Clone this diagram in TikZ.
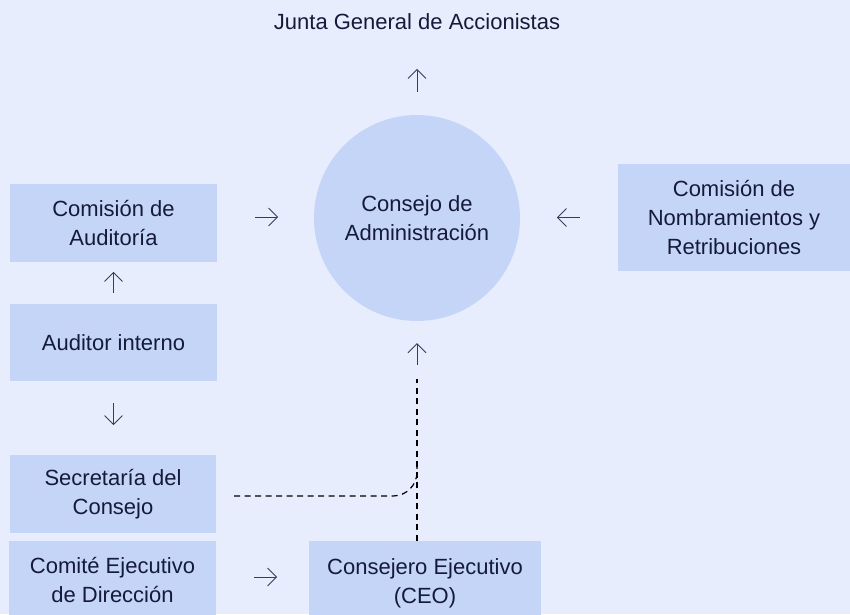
\documentclass[tikz,border=0pt]{standalone}
\usepackage{fontspec}
\setmainfont{Liberation Sans}
\usetikzlibrary{arrows.meta,calc}
\definecolor{bgblue}{HTML}{E8EDFD}
\definecolor{boxblue}{HTML}{C5D5F7}
\definecolor{inkblue}{HTML}{161A3A}
\tikzset{
  box/.style={fill=boxblue, text=inkblue, align=center, inner sep=0pt, font=\fontsize{22}{29}\selectfont},
  arr/.style={-{Straight Barb[length=9pt,width=18pt]}, draw=inkblue!85, line width=0.9pt},
  dashline/.style={draw=black, line width=1.2pt, dash pattern=on 6pt off 4.5pt},
}

\begin{document}
\begin{tikzpicture}[x=1pt,y=-1pt]
\fill[bgblue] (0,0) rectangle (850,614);
\useasboundingbox (0,0) rectangle (850,614);

\node[text=inkblue, font=\fontsize{22}{29}\selectfont] (junta) at (417,22) {Junta General de Accionistas};
\node[box, circle, minimum size=206pt] (board) at (417,218) {Consejo de\\Administración};
\node[box, minimum width=207pt, minimum height=78pt] (audit) at (113.5,223) {Comisión de\\Auditoría};
\node[box, minimum width=232pt, minimum height=107pt] (nomb) at (734,217.5) {Comisión de\\Nombramientos y\\Retribuciones};
\node[box, minimum width=207pt, minimum height=77pt] (interno) at (113.5,342.5) {Auditor interno};
\node[box, minimum width=206pt, minimum height=78pt] (secre) at (113,494) {Secretaría del\\Consejo};
\node[box, minimum width=207pt, minimum height=78pt] (comite) at (112.5,580) {Comité Ejecutivo\\de Dirección};
\node[box, minimum width=232pt, minimum height=84pt] (ceo) at (425,583) {Consejero Ejecutivo\\(CEO)};

% short arrows between the blocks
\draw[arr] ($(board.north)+(0,-23)$) -- ++(0,-23);
\draw[arr] ($(audit.east)+(38,-6)$) -- ++(23,0);
\draw[arr] ($(nomb.west)+(-38,0)$) -- ++(-23,0);
\draw[arr] ($(interno.north)+(0,-11)$) -- ++(0,-21);
\draw[arr] ($(interno.south)+(0,22)$) -- ++(0,22);
\draw[arr] ($(comite.east)+(38,-3)$) -- ++(23,0);
\draw[arr] ($(board.south)+(0,44)$) -- ++(0,-22);

% dashed links
\coordinate (dashtop) at ($(board.south)+(0,58)$);
\draw[dashline] (dashtop |- ceo.north) -- (dashtop);
\draw[dashline, rounded corners=24pt] ($(secre.east)+(18,2)$) -| ($(dashtop)+(0,88)$);
\end{tikzpicture}
\end{document}
